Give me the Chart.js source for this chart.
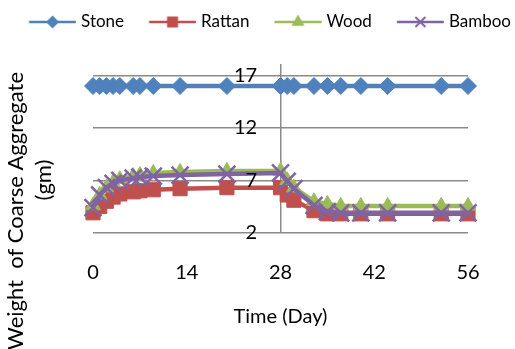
<!DOCTYPE html>
<html>
<head>
<meta charset="utf-8">
<script src="https://cdn.jsdelivr.net/npm/chart.js@4.4.1/dist/chart.umd.min.js"></script>
<style>
  html, body { margin: 0; padding: 0; background: #fff; }
  #wrap { width: 515px; height: 349px; position: relative; }
</style>
</head>
<body>
<div id="wrap"><canvas id="c" width="515" height="349"></canvas></div>
<script>
// Sampling days (x values) shared by every series
const days = [0, 1, 2, 3, 4, 6, 7, 9, 13, 20, 28, 29, 30, 33, 35, 37, 40, 44, 52, 56];

// Weight of coarse aggregate (gm) per material
const stone  = [16, 16, 16, 16, 16, 16, 16, 16, 16, 16, 16, 16, 16, 16, 16, 16, 16, 16, 16, 16];
const rattan = [3.9, 4.5, 5.0, 5.4, 5.7, 5.9, 6.0, 6.1, 6.2, 6.3, 6.3, 5.6, 5.1, 4.1, 3.8, 3.8, 3.8, 3.8, 3.8, 3.8];
const wood   = [4.6, 5.6, 6.3, 6.8, 7.1, 7.4, 7.5, 7.7, 7.8, 7.9, 7.9, 7.0, 6.3, 5.0, 4.75, 4.55, 4.55, 4.55, 4.55, 4.55];
const bamboo = [4.4, 5.6, 6.3, 6.7, 7.0, 7.2, 7.3, 7.4, 7.5, 7.6, 7.7, 6.9, 6.2, 4.6, 4.0, 3.9, 3.9, 3.9, 3.9, 3.9];

const seriesNames = ['Stone', 'Rattan', 'Wood', 'Bamboo'];
const xTicks = [0, 14, 28, 42, 56];
const yTicks = [2, 7, 12, 17];

const colors = ['#4F81BD', '#C0504D', '#9BBB59', '#8064A2'];
const FONT = 'Lato';

Chart.defaults.font.family = FONT;
Chart.defaults.color = '#000';

// Legend swatch: a short line with the series marker in its middle
function drawMarker(ctx, style, x, y, r) {
  ctx.beginPath();
  if (style === 'rectRot') {
    ctx.moveTo(x, y - r); ctx.lineTo(x + r, y); ctx.lineTo(x, y + r); ctx.lineTo(x - r, y);
    ctx.closePath(); ctx.fill();
  } else if (style === 'rect') {
    ctx.rect(x - r, y - r, 2 * r, 2 * r); ctx.fill();
  } else if (style === 'triangle') {
    ctx.moveTo(x, y - r);
    ctx.lineTo(x + r * 0.866, y + r * 0.5);
    ctx.lineTo(x - r * 0.866, y + r * 0.5);
    ctx.closePath(); ctx.fill();
  } else if (style === 'crossRot') {
    ctx.moveTo(x - r, y - r); ctx.lineTo(x + r, y + r);
    ctx.moveTo(x + r, y - r); ctx.lineTo(x - r, y + r);
    ctx.lineWidth = 2; ctx.stroke();
  }
}
function legendIcon(color, style, r) {
  const c = document.createElement('canvas');
  c.width = 76; c.height = 22;
  const g = c.getContext('2d');
  g.strokeStyle = color; g.fillStyle = color;
  g.lineWidth = 2.5;
  g.beginPath(); g.moveTo(28.75, 11); g.lineTo(75.75, 11); g.stroke();
  drawMarker(g, style, 52.25, 11, r);
  return c;
}
const pointStyles = ['rectRot', 'rect', 'triangle', 'crossRot'];
const legendIcons = [
  legendIcon(colors[0], 'rectRot', 6.5),
  legendIcon(colors[1], 'rect', 5.5),
  legendIcon(colors[2], 'triangle', 7.5),
  legendIcon(colors[3], 'crossRot', 5)
];

function toXY(values) {
  return values.map((v, i) => ({ x: days[i], y: v }));
}

const allSeries = [stone, rattan, wood, bamboo];
const pointRadius = [8.5, 10, 8.5, 12];
const drawOrder = [3, 2, 1, 0]; // later series are painted on top

const datasets = allSeries.map((vals, i) => ({
  label: seriesNames[i],
  data: toXY(vals),
  borderColor: colors[i],
  backgroundColor: colors[i],
  borderWidth: 4.5,
  pointStyle: pointStyles[i],
  pointRadius: pointRadius[i],
  pointHoverRadius: pointRadius[i],
  pointBackgroundColor: colors[i],
  pointBorderColor: colors[i],
  pointBorderWidth: i === 3 ? 2.5 : 1,
  tension: 0,
  clip: false,
  order: drawOrder[i]
}));

// Two-line rotated title for the value axis
const yTitlePlugin = {
  id: 'yTitle',
  afterDraw(chart) {
    const ctx = chart.ctx;
    ctx.save();
    ctx.fillStyle = '#000';
    ctx.font = '22px ' + FONT;
    ctx.textBaseline = 'middle';
    ctx.translate(16, 72);
    ctx.rotate(-Math.PI / 2);
    ctx.textAlign = 'right';
    ctx.fillText('Weight  of Coarse Aggregate', 0, 0);
    ctx.restore();
    ctx.save();
    ctx.fillStyle = '#000';
    ctx.font = '22px ' + FONT;
    ctx.textBaseline = 'middle';
    ctx.translate(44, 180);
    ctx.rotate(-Math.PI / 2);
    ctx.textAlign = 'center';
    ctx.fillText('(gm)', 0, 0);
    ctx.restore();
  }
};

new Chart(document.getElementById('c'), {
  type: 'line',
  data: { datasets },
  plugins: [yTitlePlugin],
  options: {
    responsive: false,
    animation: false,
    layout: { padding: { top: 13.5, left: 0, right: 0, bottom: 0 } },
    plugins: {
      tooltip: { enabled: false },
      legend: {
        position: 'top',
        labels: {
          usePointStyle: true,
          pointStyleWidth: 68.5,
          padding: 0,
          color: '#000',
          font: { size: 17, family: FONT },
          generateLabels(chart) {
            const items = Chart.defaults.plugins.legend.labels.generateLabels(chart);
            items.forEach(it => { it.pointStyle = legendIcons[it.datasetIndex]; });
            return items;
          },
          sort: (a, b) => a.datasetIndex - b.datasetIndex
        }
      }
    },
    scales: {
      x: {
        type: 'linear',
        min: 0,
        max: 56,
        afterBuildTicks(scale) { scale.ticks = xTicks.map(v => ({ value: v })); },
        afterFit(scale) { scale.height = 116.3; scale.paddingRight = 47; },
        border: { display: false },
        grid: {
          drawTicks: false,
          lineWidth: 1.5,
          color: ctx => (ctx.tick && ctx.tick.value === 28) ? '#8a8a8a' : 'rgba(0,0,0,0)'
        },
        ticks: { padding: 28, font: { size: 20 }, color: '#000', maxRotation: 0 },
        title: {
          display: true,
          text: 'Time (Day)',
          font: { size: 20 },
          color: '#000',
          padding: { top: 0, bottom: 20 }
        }
      },
      // empty spacer band between the legend and the plot
      xTop: {
        type: 'linear',
        axis: 'x',
        position: 'top',
        min: 0,
        max: 56,
        afterFit(scale) { scale.height = 23.5; },
        border: { display: false },
        grid: { display: false, drawTicks: false },
        ticks: { display: false }
      },
      y: {
        type: 'linear',
        position: 'left',
        min: 2,
        max: 18.1,
        afterBuildTicks(scale) { scale.ticks = yTicks.map(v => ({ value: v })); },
        afterFit(scale) { scale.width = 93; scale.paddingTop = 0; scale.paddingBottom = 0; },
        border: { display: false },
        grid: { drawTicks: false, lineWidth: 1.5, color: '#8a8a8a' },
        ticks: { z: 1, mirror: true, crossAlign: 'far', padding: 141, font: { size: 20 }, color: '#000' }
      }
    }
  }
});
</script>
</body>
</html>
